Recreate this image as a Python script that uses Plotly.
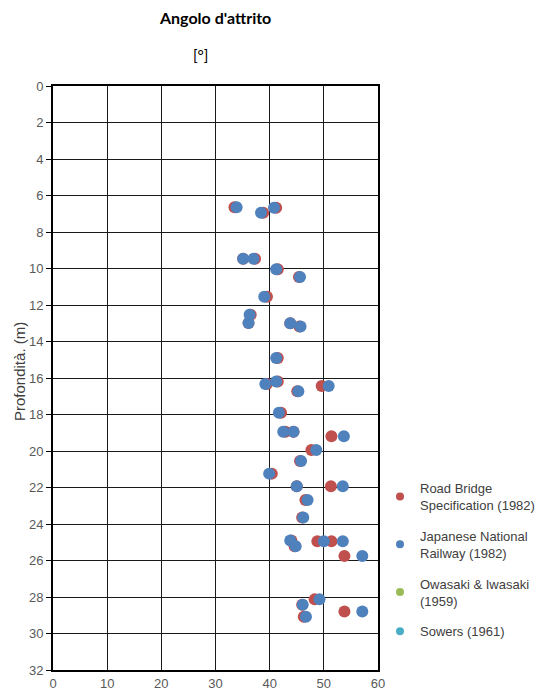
import plotly.graph_objects as go

# Depth (m) and friction angle (deg)
depth = [6.65, 6.95, 6.67, 9.46, 9.46, 10.04, 10.46, 11.55, 12.53, 12.98, 13.0, 13.18,
         14.91, 16.33, 16.19, 16.44, 16.73, 17.9, 18.95, 18.95, 19.19, 19.95, 20.55,
         21.24, 21.93, 21.93, 22.68, 23.64, 24.91, 25.22, 24.95, 24.95, 25.75, 28.13,
         28.42, 29.08, 28.8]
road_bridge = [33.5, 38.8, 41.2, 35.1, 37.3, 41.5, 45.4, 39.5, 36.5, 36.1, 43.8, 45.5,
               41.5, 39.5, 41.5, 49.6, 45.1, 42.1, 42.9, 44.4, 51.4, 47.7, 45.6,
               40.4, 45.0, 51.3, 46.6, 46.0, 44.0, 44.6, 48.8, 51.4, 53.8, 48.3,
               46.0, 46.3, 53.8]
jnr = [33.9, 38.4, 40.8, 35.1, 37.0, 41.2, 45.6, 39.0, 36.3, 36.1, 43.8, 45.7,
       41.2, 39.2, 41.2, 50.9, 45.3, 41.7, 42.5, 44.4, 53.7, 48.6, 45.8,
       39.9, 45.0, 53.5, 47.0, 46.2, 43.8, 44.8, 50.0, 53.5, 57.1, 49.2,
       46.1, 46.7, 57.1]
owasaki_x, owasaki_y = [None], [None]
sowers_x, sowers_y = [None], [None]

names = ["Road Bridge<br>Specification (1982)", "Japanese National<br>Railway (1982)",
         "Owasaki & Iwasaki<br>(1959)", "Sowers (1961)"]
colors = ["#C0504D", "#4F81BD", "#9BBB59", "#4BACC6"]
x_ticks = [0, 10, 20, 30, 40, 50, 60]
y_ticks = list(range(0, 34, 2))

series = [(road_bridge, depth), (jnr, depth), (owasaki_x, owasaki_y), (sowers_x, sowers_y)]

L, R, T, B = 53, 181, 86, 22
W, H = 559, 692
pw, ph = W - L - R, H - T - B


def px2paper(px, py):
    return (px - L) / pw, (H - B - py) / ph


fig = go.Figure()
for i, ((xs, ys), n, c) in enumerate(zip(series, names, colors)):
    # data marks
    fig.add_trace(go.Scatter(x=xs, y=ys, mode="markers", name=n, showlegend=False,
                             legendgroup=f"g{i}",
                             marker=dict(color=c, size=12, line=dict(width=0))))
for i, (n, c) in enumerate(zip(names, colors)):
    # legend entries (smaller symbol as in the reference)
    fig.add_trace(go.Scatter(x=[None], y=[None], mode="markers", name=n,
                             legendgroup=f"g{i}",
                             marker=dict(color=c, size=8, line=dict(width=0))))

tx, ty = px2paper(215, 18)
ux, uy = px2paper(200, 55)
lx, ly = px2paper(380, 473)
yx, yy = px2paper(19, 372)

fig.update_layout(
    width=W, height=H,
    margin=dict(l=L, r=R, t=T, b=B, autoexpand=False),
    paper_bgcolor="white", plot_bgcolor="white",
    font=dict(family="Liberation Sans, Arial", size=13, color="#595959"),
    showlegend=True,
    legend=dict(x=lx, y=ly, xanchor="left", yanchor="top",
                font=dict(size=13, color="#404040"), bgcolor="rgba(0,0,0,0)",
                tracegroupgap=11, itemsizing="trace"),
    annotations=[
        dict(text="<b>Angolo d'attrito</b>", x=tx, y=ty, xref="paper", yref="paper",
             xanchor="center", yanchor="middle", showarrow=False,
             font=dict(family="Lato", size=16, color="#000000")),
        dict(text="[°]", x=ux, y=uy, xref="paper", yref="paper", showarrow=False,
             xanchor="center", yanchor="middle",
             font=dict(family="Lato", size=15, color="#000000")),
        dict(text="Profondità. (m)", x=yx, y=yy, xref="paper", yref="paper",
             xanchor="center", yanchor="middle", textangle=-90, showarrow=False,
             font=dict(family="Liberation Sans, Arial", size=15, color="#404040")),
    ],
)

fig.update_xaxes(range=[0, 60], tickvals=x_ticks, showgrid=True, gridcolor="#1a1a1a",
                 gridwidth=1, showline=True, linecolor="black", linewidth=2, mirror=True,
                 ticks="", zeroline=False,
                 automargin=False, tickfont=dict(size=13, color="#595959"))
fig.update_yaxes(range=[32, 0], tickvals=y_ticks, showgrid=True, gridcolor="#1a1a1a",
                 gridwidth=1, showline=True, linecolor="black", linewidth=2, mirror=True,
                 ticks="outside", ticklen=5, tickcolor="black", zeroline=False,
                 automargin=False, tickfont=dict(size=13, color="#595959"))

fig.write_html("out.html")
